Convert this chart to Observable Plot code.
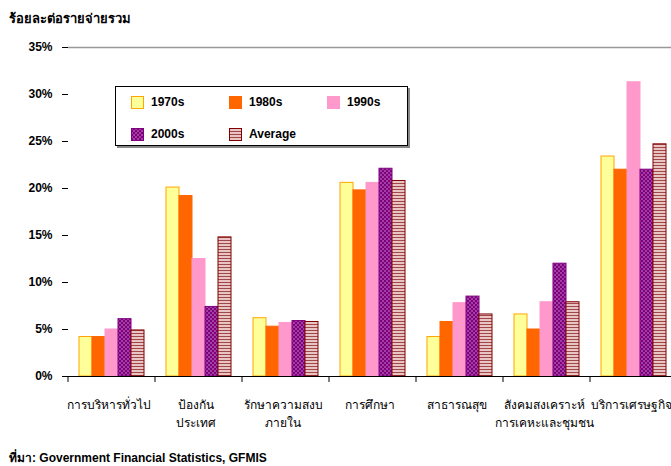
<!DOCTYPE html>
<html><head><meta charset="utf-8">
<script src="https://cdn.jsdelivr.net/npm/d3@7"></script>
<script src="https://cdn.jsdelivr.net/npm/@observablehq/plot@0.6"></script>
<style>
body{margin:0;background:#fff;font-family:Arial,"Liberation Sans",sans-serif;color:#000;}
#wrap{position:relative;width:671px;height:466px;overflow:hidden;}
#title{height:36px;box-sizing:border-box;padding:8px 0 0 9px;font-weight:bold;font-size:13px;}
#chart{height:404px;}
#caption{height:26px;box-sizing:border-box;padding:8px 0 0 9px;font-weight:bold;font-size:12px;}
#legend{position:absolute;left:115px;top:86px;width:291px;height:58px;border:1px solid #000;background:#fff;box-shadow:2px 2px 0 #888;}
.item{position:absolute;display:flex;align-items:center;font-weight:bold;font-size:12px;}
.item svg{margin-right:7px;}
</style>
</head><body>
<svg width="0" height="0" style="position:absolute">
  <defs>
    <pattern id="checker" width="4" height="4" patternUnits="userSpaceOnUse">
      <rect width="4" height="4" fill="#800080"/>
      <rect x="0" y="0" width="2" height="2" fill="#A040A0"/>
      <rect x="2" y="2" width="2" height="2" fill="#A040A0"/>
    </pattern>
    <pattern id="stripes" width="3" height="3" patternUnits="userSpaceOnUse">
      <rect width="3" height="3" fill="#E8C4C4"/>
      <rect width="3" height="1" fill="#A04848"/>
    </pattern>
  </defs>
</svg>
<div id="wrap">
  <div id="title">ร้อยละต่อรายจ่ายรวม</div>
  <div id="chart"></div>
  <div id="caption">ที่มา: Government Financial Statistics, GFMIS</div>
  <div id="legend"></div>
</div>
<script>
const categories = ["การบริหารทั่วไป", "ป้องกัน\nประเทศ", "รักษาความสงบ\nภายใน", "การศึกษา", "สาธารณสุข", "สังคมสงเคราะห์\nการเคหะและชุมชน", "บริการเศรษฐกิจ"];
const series = ["1970s", "1980s", "1990s", "2000s", "Average"];
const v1970s  = [4.2, 20.1, 6.2, 20.6, 4.2, 6.6, 23.4];
const v1980s  = [4.2, 19.2, 5.3, 19.8, 5.8, 5.0, 22.0];
const v1990s  = [5.0, 12.5, 5.7, 20.6, 7.8, 7.9, 31.3];
const v2000s  = [6.1, 7.4, 5.9, 22.1, 8.5, 12.0, 22.0];
const vAverage = [4.9, 14.8, 5.8, 20.8, 6.6, 7.9, 24.7];
const yTicks = [0, 5, 10, 15, 20, 25, 30, 35];

const seriesValues = [v1970s, v1980s, v1990s, v2000s, vAverage];
const fills = ["#FFFF99", "#FF6600", "#FF99CC", "url(#checker)", "url(#stripes)"];
const strokes = ["#FFA500", "#FF6600", "#FF99CC", "#800080", "#800000"];

const rows = categories.flatMap((c, i) => series.map((s, j) => ({cat: c, series: s, value: seriesValues[j][i]})));

function boundaryTicks(index, scales) {
  const x0 = scales.x.range()[0];
  const y0 = scales.y(0);
  const line = document.createElementNS("http://www.w3.org/2000/svg", "line");
  line.setAttribute("x1", x0); line.setAttribute("x2", x0);
  line.setAttribute("y1", y0); line.setAttribute("y2", y0 + 6);
  line.setAttribute("stroke", "#000");
  return line;
}

const chart = Plot.plot({
  width: 671, height: 404,
  marginTop: 11, marginBottom: 64, marginLeft: 67, marginRight: -7,
  style: {fontFamily: "Arial, 'Liberation Sans', sans-serif", fontSize: "12px", background: "transparent", overflow: "hidden"},
  fx: {domain: categories, padding: 0, axis: null, label: null},
  x: {domain: series, paddingInner: 0, paddingOuter: 0.65, axis: null},
  y: {domain: [0, 35], axis: null},
  marks: [
    Plot.ruleY([35], {stroke: "#999", strokeWidth: 1.5}),
    ...series.map((s, j) => Plot.barY(rows.filter(d => d.series === s), {
      fx: "cat", x: "series", y: "value",
      fill: fills[j], stroke: strokes[j], strokeWidth: 1
    })),
    Plot.ruleY([0], {stroke: "#000"}),
    boundaryTicks,
    Plot.axisY({ticks: yTicks, tickFormat: d => d + "%", tickSize: 6, tickPadding: 10, fontWeight: "bold", fontSize: 12, line: true, stroke: "#000", label: null}),
    Plot.text(categories, {fx: d => d, text: d => d, frameAnchor: "bottom", lineAnchor: "top", dy: 19, dx: -3, fontSize: 12, lineHeight: 1.55})
  ]
});
document.getElementById("chart").appendChild(chart);

const legend = document.getElementById("legend");
series.forEach((s, j) => {
  const col = j % 3, row = Math.floor(j / 3);
  const div = document.createElement("div");
  div.className = "item";
  div.style.left = (15 + col * 98) + "px";
  div.style.top = (8 + row * 32) + "px";
  div.innerHTML = `<svg width="13" height="13"><rect x="0.5" y="0.5" width="12" height="12" fill="${fills[j]}" stroke="${strokes[j]}"/></svg><span>${s}</span>`;
  legend.appendChild(div);
});
</script>
</body></html>
